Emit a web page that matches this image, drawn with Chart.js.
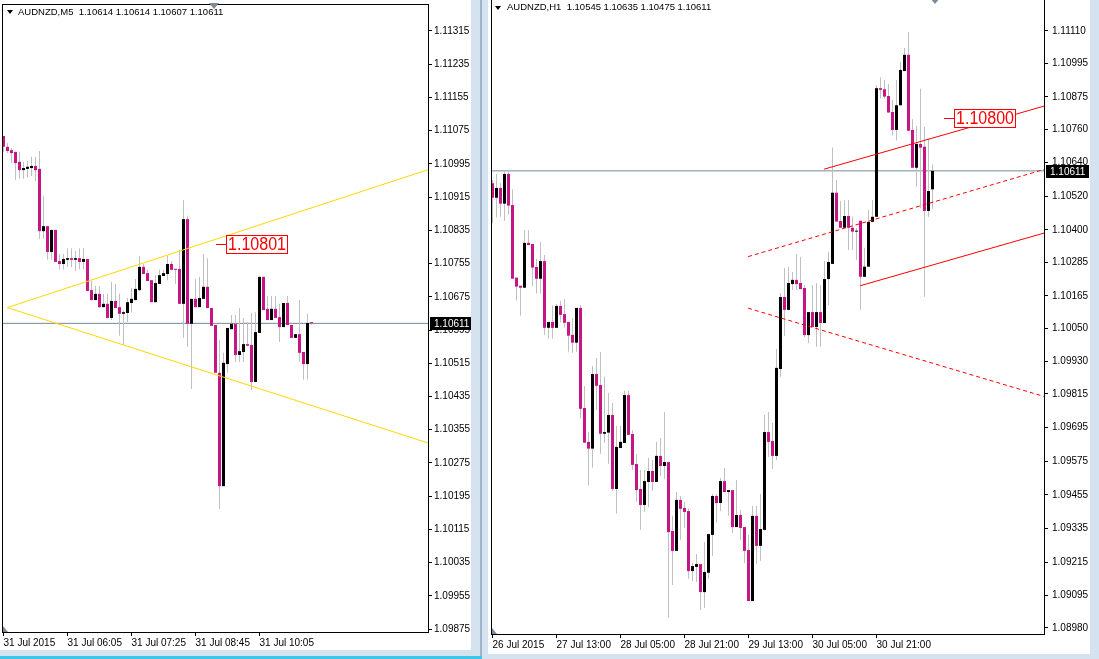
<!DOCTYPE html>
<html>
<head>
<meta charset="utf-8">
<script src="https://cdn.jsdelivr.net/npm/chart.js@4.4.1/dist/chart.umd.min.js"></script>
<style>
html,body{margin:0;padding:0;}
body{width:1099px;height:659px;overflow:hidden;background:#d5e2f0;position:relative;font-family:'Liberation Sans',Arial,sans-serif;}
.win{position:absolute;background:#fff;}
.win canvas{position:absolute;left:0;top:0;}
.ttl{position:absolute;font-size:9.5px;line-height:12px;color:#000;white-space:pre;}
.tri{position:absolute;width:0;height:0;border-left:3px solid transparent;border-right:3px solid transparent;border-top:4px solid #000;}
#sep{position:absolute;left:480px;top:0;width:2px;height:659px;background:#9fb3cb;}
#bline{position:absolute;left:0;top:656px;width:482px;height:3px;background:#3cc6ea;}
</style>
</head>
<body>
<div class="win" id="w1" style="left:0;top:0;width:471px;height:650px;"><canvas id="c1" width="471" height="650"></canvas></div>
<div class="win" id="w2" style="left:488px;top:0;width:602px;height:654px;"><canvas id="c2" width="602" height="654"></canvas></div>
<div id="sep"></div>
<div id="bline"></div>
<div class="tri" style="left:7px;top:10px;"></div>
<div class="ttl" id="t1" style="left:18px;top:6px;"></div>
<div class="tri" style="left:495px;top:6px;"></div>
<div class="ttl" id="t2" style="left:507px;top:1px;"></div>
<script>
// ---------- M5 chart (left) ----------
const leftSymbol = 'AUDNZD,M5';
const leftOpen  = [1.11062,1.11036,1.11028,1.11024,1.11000,1.10980,1.10983,1.10985,1.10990,1.10983,1.10833,1.10845,1.10783,1.10836,1.10761,1.10754,1.10764,1.10768,1.10764,1.10768,1.10759,1.10766,1.10691,1.10667,1.10682,1.10650,1.10658,1.10624,1.10665,1.10650,1.10634,1.10636,1.10660,1.10667,1.10691,1.10747,1.10732,1.10715,1.10662,1.10706,1.10725,1.10730,1.10754,1.10742,1.10742,1.10658,1.10862,1.10610,1.10670,1.10650,1.10670,1.10699,1.10648,1.10607,1.10492,1.10219,1.10513,1.10597,1.10610,1.10535,1.10542,1.10561,1.10559,1.10470,1.10588,1.10723,1.10646,1.10619,1.10646,1.10626,1.10602,1.10660,1.10607,1.10576,1.10585,1.10542,1.10513,1.10614];
const leftHigh  = [1.11062,1.11045,1.11033,1.11024,1.11024,1.11000,1.11002,1.11012,1.11012,1.11026,1.10918,1.10845,1.10836,1.10836,1.10778,1.10778,1.10792,1.10792,1.10785,1.10792,1.10792,1.10766,1.10713,1.10701,1.10701,1.10682,1.10682,1.10711,1.10706,1.10682,1.10643,1.10672,1.10696,1.10718,1.10773,1.10754,1.10740,1.10715,1.10727,1.10740,1.10740,1.10773,1.10761,1.10742,1.10788,1.10908,1.10870,1.10670,1.10718,1.10723,1.10778,1.10768,1.10648,1.10607,1.10571,1.10540,1.10600,1.10631,1.10631,1.10648,1.10624,1.10614,1.10636,1.10638,1.10723,1.10723,1.10677,1.10677,1.10677,1.10658,1.10660,1.10677,1.10607,1.10585,1.10667,1.10542,1.10634,1.10614];
const leftLow   = [1.11024,1.11021,1.10997,1.10956,1.10959,1.10959,1.10963,1.10966,1.10954,1.10814,1.10814,1.10764,1.10764,1.10759,1.10740,1.10740,1.10747,1.10747,1.10737,1.10742,1.10742,1.10689,1.10667,1.10667,1.10648,1.10650,1.10624,1.10619,1.10648,1.10581,1.10559,1.10614,1.10638,1.10667,1.10689,1.10730,1.10713,1.10662,1.10662,1.10706,1.10725,1.10715,1.10740,1.10706,1.10658,1.10576,1.10554,1.10453,1.10650,1.10650,1.10670,1.10648,1.10605,1.10492,1.10164,1.10219,1.10492,1.10597,1.10518,1.10518,1.10518,1.10557,1.10451,1.10470,1.10588,1.10643,1.10619,1.10619,1.10624,1.10566,1.10602,1.10607,1.10576,1.10576,1.10518,1.10475,1.10475,1.10607];
const leftClose = [1.11036,1.11026,1.11021,1.10997,1.10980,1.10985,1.10988,1.10990,1.10980,1.10833,1.10845,1.10783,1.10836,1.10759,1.10754,1.10766,1.10768,1.10764,1.10768,1.10759,1.10766,1.10689,1.10667,1.10682,1.10650,1.10658,1.10624,1.10665,1.10648,1.10634,1.10638,1.10662,1.10670,1.10694,1.10747,1.10730,1.10713,1.10662,1.10708,1.10727,1.10732,1.10754,1.10740,1.10740,1.10658,1.10862,1.10610,1.10670,1.10650,1.10672,1.10699,1.10648,1.10605,1.10492,1.10219,1.10516,1.10600,1.10610,1.10535,1.10544,1.10561,1.10557,1.10470,1.10590,1.10723,1.10643,1.10619,1.10646,1.10624,1.10602,1.10660,1.10607,1.10576,1.10585,1.10540,1.10513,1.10612,1.10611];
const leftXTickIdx = [0,16,32,48,64];
const leftXTickLabels = ['31 Jul 2015','31 Jul 06:05','31 Jul 07:25','31 Jul 08:45','31 Jul 10:05'];
const leftYTicks = [1.11315,1.11235,1.11155,1.11075,1.10995,1.10915,1.10835,1.10755,1.10675,1.10595,1.10515,1.10435,1.10355,1.10275,1.10195,1.10115,1.10035,1.09955,1.09875];
const leftTrendIdx = [0.95, 106.125];
const leftUpperTrend = [1.10649, 1.10981];
const leftLowerTrend = [1.10649, 1.10323];
const leftMarkIdx = 53.1;
const leftMarkPrice = 1.10801;

// ---------- H1 chart (right) ----------
const rightSymbol = 'AUDNZD,H1';
const rightOpen  = [1.10567,1.10515,1.10550,1.10494,1.10600,1.10489,1.10230,1.10201,1.10194,1.10354,1.10350,1.10268,1.10226,1.10289,1.10051,1.10072,1.10051,1.10129,1.10100,1.10072,1.10026,1.09998,1.10122,1.09765,1.09644,1.09620,1.09886,1.09847,1.09673,1.09677,1.09740,1.09476,1.09622,1.09640,1.09811,1.09672,1.09565,1.09476,1.09419,1.09501,1.09540,1.09501,1.09594,1.09558,1.09572,1.09326,1.09255,1.09437,1.09408,1.09397,1.09183,1.09198,1.09208,1.09108,1.09177,1.09312,1.09451,1.09426,1.09504,1.09465,1.09472,1.09340,1.09383,1.09340,1.09258,1.09076,1.09380,1.09273,1.09330,1.09679,1.09647,1.09594,1.09904,1.10161,1.10115,1.10207,1.10222,1.10211,1.10193,1.10025,1.10107,1.10054,1.10107,1.10068,1.10225,1.10279,1.10533,1.10432,1.10408,1.10450,1.10408,1.10394,1.10433,1.10233,1.10269,1.10429,1.10447,1.10906,1.10902,1.10878,1.10821,1.10757,1.10845,1.10967,1.11025,1.10757,1.10622,1.10707,1.10697,1.10468,1.10545];
const rightHigh  = [1.10578,1.10600,1.10567,1.10614,1.10614,1.10545,1.10230,1.10201,1.10400,1.10400,1.10350,1.10297,1.10357,1.10311,1.10072,1.10131,1.10136,1.10147,1.10154,1.10072,1.10086,1.10122,1.10132,1.09843,1.09679,1.09915,1.09943,1.09965,1.09876,1.09818,1.09783,1.09701,1.09701,1.09826,1.09826,1.09686,1.09601,1.09544,1.09544,1.09587,1.09579,1.09644,1.09658,1.09751,1.09572,1.09380,1.09465,1.09451,1.09430,1.09405,1.09213,1.09244,1.09208,1.09287,1.09315,1.09458,1.09458,1.09515,1.09551,1.09472,1.09472,1.09508,1.09401,1.09340,1.09312,1.09415,1.09415,1.09458,1.09740,1.09751,1.09711,1.09975,1.10175,1.10264,1.10268,1.10250,1.10314,1.10304,1.10204,1.10107,1.10204,1.10211,1.10204,1.10289,1.10322,1.10694,1.10578,1.10503,1.10507,1.10507,1.10447,1.10408,1.10433,1.10337,1.10471,1.10507,1.10917,1.10945,1.10935,1.10921,1.10864,1.10935,1.11000,1.11049,1.11106,1.10795,1.10771,1.10904,1.10768,1.10726,1.10635];
const rightLow   = [1.10424,1.10445,1.10447,1.10433,1.10454,1.10226,1.10148,1.10094,1.10194,1.10346,1.10200,1.10173,1.10173,1.10025,1.10012,1.10012,1.10051,1.10071,1.10051,1.09966,1.09962,1.09966,1.09727,1.09641,1.09488,1.09552,1.09758,1.09602,1.09640,1.09566,1.09469,1.09388,1.09622,1.09640,1.09669,1.09544,1.09430,1.09330,1.09394,1.09412,1.09469,1.09501,1.09522,1.09512,1.09017,1.09133,1.09255,1.09294,1.09337,1.09156,1.09148,1.09144,1.09044,1.09051,1.09156,1.09237,1.09355,1.09397,1.09465,1.09380,1.09319,1.09340,1.09294,1.09212,1.09076,1.09076,1.09208,1.09220,1.09330,1.09590,1.09547,1.09579,1.09876,1.10022,1.10115,1.10186,1.10186,1.10189,1.10018,1.09997,1.10054,1.09983,1.09983,1.10068,1.10132,1.10279,1.10430,1.10408,1.10408,1.10329,1.10329,1.10293,1.10115,1.10233,1.10269,1.10429,1.10447,1.10870,1.10868,1.10819,1.10738,1.10719,1.10845,1.10967,1.10754,1.10622,1.10554,1.10478,1.10162,1.10447,1.10475];
const rightClose = [1.10515,1.10550,1.10494,1.10600,1.10487,1.10226,1.10198,1.10194,1.10354,1.10346,1.10266,1.10226,1.10289,1.10051,1.10072,1.10051,1.10129,1.10097,1.10069,1.10023,1.09998,1.10122,1.09762,1.09641,1.09620,1.09886,1.09844,1.09673,1.09679,1.09740,1.09476,1.09626,1.09644,1.09811,1.09669,1.09562,1.09472,1.09419,1.09504,1.09540,1.09501,1.09594,1.09558,1.09572,1.09322,1.09255,1.09437,1.09405,1.09394,1.09183,1.09201,1.09208,1.09108,1.09180,1.09315,1.09451,1.09426,1.09504,1.09465,1.09472,1.09340,1.09383,1.09337,1.09255,1.09076,1.09380,1.09273,1.09333,1.09679,1.09644,1.09594,1.09908,1.10161,1.10115,1.10211,1.10222,1.10207,1.10189,1.10025,1.10107,1.10054,1.10107,1.10068,1.10225,1.10286,1.10533,1.10430,1.10408,1.10450,1.10408,1.10394,1.10397,1.10233,1.10269,1.10429,1.10447,1.10906,1.10900,1.10876,1.10819,1.10757,1.10845,1.10971,1.11025,1.10754,1.10622,1.10707,1.10694,1.10468,1.10539,1.10611];
const rightXTickIdx = [0,16,32,48,64,80,96];
const rightXTickLabels = ['26 Jul 2015','27 Jul 13:00','28 Jul 05:00','28 Jul 21:00','29 Jul 13:00','30 Jul 05:00','30 Jul 21:00'];
const rightYTicks = [1.11110,1.10995,1.10875,1.10760,1.10640,1.10520,1.10400,1.10285,1.10165,1.10050,1.09930,1.09815,1.09695,1.09575,1.09455,1.09335,1.09215,1.09095,1.08980];
const rightUpperIdx = [82.9, 137.875];   const rightUpperLine = [1.10617, 1.10842];
const rightMidIdx   = [63.9, 137.875];   const rightMidLine   = [1.10305, 1.10616];
const rightLowIdx   = [91.9, 137.875];   const rightLowLine   = [1.10201, 1.10389];
const rightDownIdx  = [63.9, 137.875];   const rightDownLine  = [1.10121, 1.09806];
const rightMarkIdx = 112.9;
const rightMarkPrice = 1.10800;

// ---------- styling ----------
const MAGENTA = '#c71585';
const BLACK = '#000000';
const WICK = '#c0c0c0';
const BIDCOL = '#778899';
const FONT = {family:"'Liberation Sans', Arial, sans-serif", size:10};

function candleDatasets(open, high, low, close) {
  const idx = open.map((_, i) => i);
  return [
    {type:'bar', data: idx.map(i => ({x:i, y:[low[i], high[i]]})), backgroundColor: WICK,
     barThickness:1, grouped:false, minBarLength:1, inflateAmount:0, borderWidth:0, order:4},
    {type:'bar', data: idx.map(i => ({x:i, y:[Math.min(open[i], close[i]), Math.max(open[i], close[i])]})),
     backgroundColor: idx.map(i => close[i] < open[i] ? MAGENTA : BLACK),
     barThickness:3, grouped:false, minBarLength:1, inflateAmount:0, borderWidth:0, order:3}
  ];
}
function lineDataset(xs, ys, color, dash, order) {
  return {type:'line', data: xs.map((x, i) => ({x:x, y:ys[i]})), borderColor: color, borderWidth:1,
          borderDash: dash || [], pointRadius:0, pointHoverRadius:0, fill:false, tension:0, order: order};
}

const decoPlugin = {
  id:'deco',
  afterDraw(chart, args, o) {
    const ctx = chart.ctx, ca = chart.chartArea, xs = chart.scales.x, ys = chart.scales.y;
    ctx.save();
    ctx.strokeStyle = '#000'; ctx.lineWidth = 1;
    ctx.strokeRect(ca.left - 0.5, ca.top - 0.5, ca.right - ca.left + 1, ca.bottom - ca.top + 1);
    ctx.fillStyle = '#7d8a98';
    ctx.beginPath(); ctx.moveTo(ca.left, ca.bottom - 6); ctx.lineTo(ca.left, ca.bottom); ctx.lineTo(ca.left + 5, ca.bottom); ctx.closePath(); ctx.fill();
    ctx.beginPath(); ctx.moveTo(o.shiftX - 5, ca.top - 2); ctx.lineTo(o.shiftX + 5, ca.top - 2); ctx.lineTo(o.shiftX, ca.top + 4); ctx.closePath(); ctx.fill();
    // object price label
    const my = Math.round(ys.getPixelForValue(o.markPrice)) + 0.5;
    const mx = Math.round(xs.getPixelForValue(o.markIdx));
    ctx.strokeStyle = '#ff0000';
    ctx.beginPath(); ctx.moveTo(mx, my); ctx.lineTo(mx + 10, my); ctx.stroke();
    ctx.fillStyle = '#fff'; ctx.fillRect(mx + 10, my - 9.5, 62, 19);
    ctx.strokeRect(mx + 10.5, my - 9, 61, 18);
    ctx.fillStyle = '#ff0000'; ctx.font = "18px 'Liberation Sans', Arial, sans-serif";
    ctx.textBaseline = 'middle'; ctx.textAlign = 'left';
    ctx.fillText(o.markPrice.toFixed(5), mx + 12, my + 1, 58);
    // bid price box
    const by = Math.round(ys.getPixelForValue(o.bid));
    ctx.fillStyle = '#000'; ctx.fillRect(o.boxX, by - 6, o.boxW, 13);
    ctx.fillStyle = '#fff'; ctx.font = "10px 'Liberation Sans', Arial, sans-serif";
    ctx.fillText(o.bid.toFixed(5), o.boxX + 4, by + 1);
    ctx.restore();
  }
};

function build(id, o) {
  const bid = o.close[o.close.length - 1];
  const datasets = [
    lineDataset([o.xMin, o.xMax], [bid, bid], BIDCOL, null, 5),
    ...candleDatasets(o.open, o.high, o.low, o.close),
    ...o.lines
  ];
  return new Chart(document.getElementById(id), {
    type:'bar',
    data:{datasets: datasets},
    options:{
      responsive:false, animation:false, devicePixelRatio:1,
      events:[],
      layout:{padding:{left:o.padL, top:o.padT, right:0, bottom:0}},
      plugins:{legend:{display:false}, tooltip:{enabled:false},
        deco:{bid: bid, boxX:o.boxX, boxW:o.boxW, shiftX:o.shiftX, markIdx:o.markIdx, markPrice:o.markPrice}},
      scales:{
        x:{type:'linear', min:o.xMin, max:o.xMax, offset:false, position:'bottom',
           grid:{display:true, drawOnChartArea:false, drawTicks:true, tickLength:4, color:'#000', offset:false},
           border:{display:false},
           ticks:{autoSkip:false, maxRotation:0, minRotation:0, align:'start', padding:1, color:'#000', font:FONT,
                  callback:(v) => { const k = o.xTickIdx.indexOf(v); return k >= 0 ? o.xTickLabels[k] : ''; }},
           afterBuildTicks:(s) => { s.ticks = o.xTickIdx.map(v => ({value:v})); },
           afterFit:(s) => { s.height = o.xAxisH; s.paddingLeft = 0; s.paddingRight = 0; s.paddingTop = 0; s.paddingBottom = 0; }
        },
        y:{type:'linear', position:'right', min:o.yMin, max:o.yMax, beginAtZero:false,
           grid:{display:true, drawOnChartArea:false, drawTicks:true, tickLength:4, color:'#000'},
           border:{display:false},
           ticks:{autoSkip:false, padding:o.yPad, color:'#000', font:FONT, callback:(v) => v.toFixed(5)},
           afterBuildTicks:(s) => { s.ticks = o.yTicks.map(v => ({value:v})); },
           afterFit:(s) => { s.width = o.yAxisW; s.paddingTop = 0; s.paddingBottom = 0; s.paddingLeft = 0; s.paddingRight = 0; }
        }
      }
    },
    plugins:[decoPlugin]
  });
}

build('c1', {
  open:leftOpen, high:leftHigh, low:leftLow, close:leftClose,
  xMin:-0.125, xMax:106.125, yMin:1.098678, yMax:1.113776,
  xTickIdx:leftXTickIdx, xTickLabels:leftXTickLabels, yTicks:leftYTicks,
  padL:3, padT:5, xAxisH:18, yAxisW:43, yPad:2,
  boxX:430, boxW:41, shiftX:214, markIdx:leftMarkIdx, markPrice:leftMarkPrice,
  lines:[
    lineDataset(leftTrendIdx, leftUpperTrend, '#ffd700', null, 1),
    lineDataset(leftTrendIdx, leftLowerTrend, '#ffd700', null, 1)
  ]
});
build('c2', {
  open:rightOpen, high:rightHigh, low:rightLow, close:rightClose,
  xMin:-0.125, xMax:137.875, yMin:1.089585, yMax:1.112206,
  xTickIdx:rightXTickIdx, xTickLabels:rightXTickLabels, yTicks:rightYTicks,
  padL:4, padT:0, xAxisH:20, yAxisW:46, yPad:4,
  boxX:558, boxW:43, shiftX:447, markIdx:rightMarkIdx, markPrice:rightMarkPrice,
  lines:[
    lineDataset(rightUpperIdx, rightUpperLine, '#ff0000', null, 1),
    lineDataset(rightMidIdx, rightMidLine, '#ff0000', [4,3], 1),
    lineDataset(rightLowIdx, rightLowLine, '#ff0000', null, 1),
    lineDataset(rightDownIdx, rightDownLine, '#ff0000', [4,3], 1)
  ]
});

function ohlcText(o,h,l,c){ const n=o.length-1; return [o[n],h[n],l[n],c[n]].map(v=>v.toFixed(5)).join(' '); }
document.getElementById('t1').textContent = leftSymbol + '  ' + ohlcText(leftOpen,leftHigh,leftLow,leftClose);
document.getElementById('t2').textContent = rightSymbol + '  ' + ohlcText(rightOpen,rightHigh,rightLow,rightClose);
</script>
</body>
</html>
